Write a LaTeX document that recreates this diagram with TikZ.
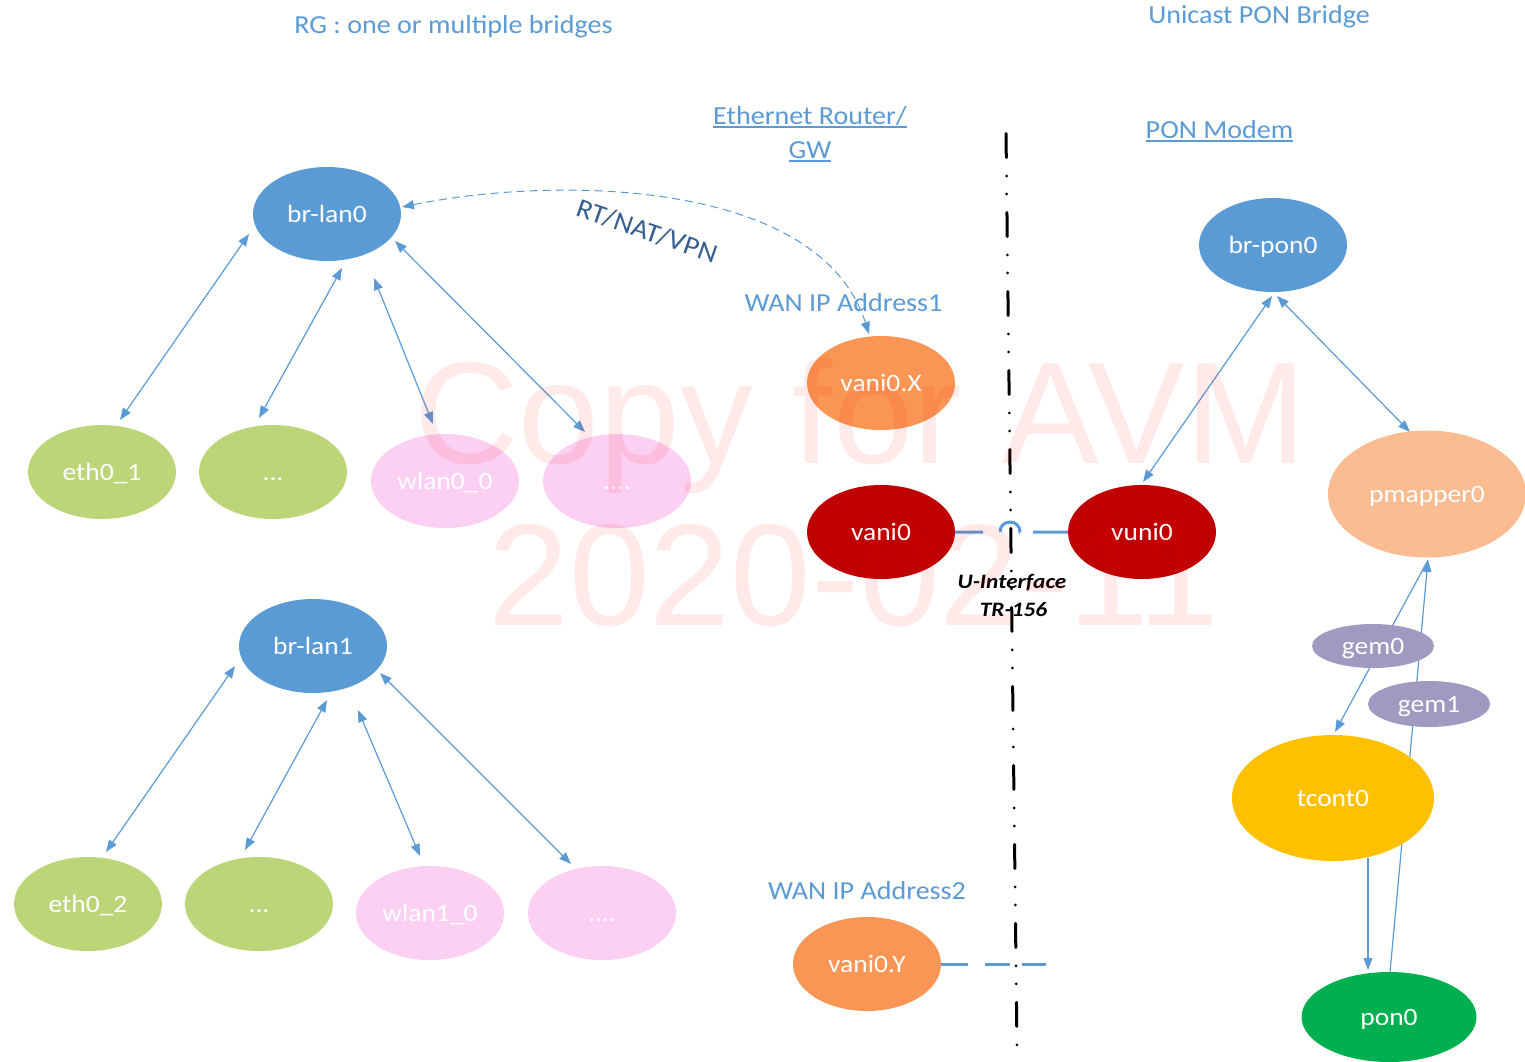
\documentclass[tikz,border=0pt]{standalone}
\usepackage{fontspec}
\setmainfont{Carlito}
\newfontfamily\titlefamily{Carlito}[FakeStretch=1.08]
\newfontfamily\labelfamily{Carlito}[FakeStretch=1.1]
\newfontfamily\ifacefamily{Carlito}[FakeStretch=1.14]
\newfontfamily\markfamily{Liberation Sans}
\usetikzlibrary{arrows.meta,shapes.geometric,calc}

\definecolor{lanblue}{RGB}{91,155,213}
\definecolor{ethgreen}{RGB}{189,213,121}
\definecolor{wlanpink}{RGB}{252,208,243}
\definecolor{vorange}{RGB}{250,150,85}
\definecolor{darkred}{RGB}{192,0,0}
\definecolor{peach}{RGB}{251,188,146}
\definecolor{gemgrey}{RGB}{161,154,192}
\definecolor{tyellow}{RGB}{255,192,0}
\definecolor{pgreen}{RGB}{0,176,80}
\definecolor{rtblue}{RGB}{55,96,146}

\pgfdeclarelayer{paper}
\pgfdeclarelayer{wires}
\pgfdeclarelayer{stamp}
\pgfsetlayers{paper,wires,main,stamp}

% underlined text with a rule of fixed offset and thickness
\newcommand\ulbox[1]{\leavevmode\setbox0\hbox{#1}\rlap{\rule[-4pt]{\wd0}{1.6pt}}\box0}

\begin{document}
\begin{tikzpicture}[x=1pt,y=-1pt,
  >={Triangle[length=12pt,width=9pt]},
  bubble/.style={ellipse, inner sep=0pt, minimum width=148pt, minimum height=94pt,
    text=white, font=\labelfamily\fontsize{25}{30}\selectfont,
    text height=17pt, text depth=0pt},
  heading/.style={text=lanblue, font=\titlefamily\fontsize{26}{31}\selectfont,
    anchor=base, inner sep=0pt},
  iface/.style={anchor=base, inner sep=0pt,
    font=\ifacefamily\bfseries\itshape\fontsize{20.5}{24}\selectfont},
  link/.style={draw=lanblue, line width=1.2pt},
  bus/.style={draw=lanblue, line width=3pt},
  stamptext/.style={anchor=base, inner sep=0pt, text=red, text opacity=0.085,
    font=\markfamily\fontsize{145}{170}\selectfont},
]
\useasboundingbox (0,0) rectangle (1525,1061);
\begin{pgfonlayer}{paper}
  \fill[white] (0,0) rectangle (1525,1061);
\end{pgfonlayer}

% ---------- RG bridges ----------
\node[bubble, fill=lanblue]  (brlan0) at (327,214) {br-lan0};
\node[bubble, fill=ethgreen] (eth01)  at (102,472) {eth0\_1};
\node[bubble, fill=ethgreen] (dots1)  at (273,472) {...};
\node[bubble, fill=wlanpink] (wlan00) at (445,481) {wlan0\_0};
\node[bubble, fill=wlanpink] (dots2)  at (617,481) {....};

\node[bubble, fill=lanblue]  (brlan1) at (313,646) {br-lan1};
\node[bubble, fill=ethgreen] (eth02)  at (88,904)  {eth0\_2};
\node[bubble, fill=ethgreen] (dots3)  at (259,904) {...};
\node[bubble, fill=wlanpink] (wlan10) at (430,913) {wlan1\_0};
\node[bubble, fill=wlanpink] (dots4)  at (602,913) {....};

% ---------- router / WAN side ----------
\node[bubble, fill=vorange] (vani0X) at (881,383) {vani0.X};
\node[bubble, fill=darkred] (vani0)  at (881,532) {vani0};
\node[bubble, fill=darkred] (vuni0)  at (1142,532) {vuni0};
\node[bubble, fill=vorange] (vani0Y) at (867,964) {vani0.Y};

% ---------- PON modem ----------
\node[bubble, fill=lanblue] (brpon0) at (1273,245) {br-pon0};
\node[bubble, fill=peach, minimum width=198pt, minimum height=127pt] (pmapper0) at (1427,494) {pmapper0};
\node[bubble, fill=gemgrey, minimum width=122pt, minimum height=44pt] (gem0) at (1373,646) {gem0};
\node[bubble, fill=gemgrey, minimum width=122pt, minimum height=46pt] (gem1) at (1429,704) {gem1};
\node[bubble, fill=tyellow, minimum width=202pt, minimum height=126pt] (tcont0) at (1333,798) {tcont0};
\node[bubble, fill=pgreen, minimum width=175pt, minimum height=90pt] (pon0) at (1389,1017) {pon0};

% ---------- headings ----------
\node[heading] (rgtitle)  at (453.5,33) {RG : one or multiple bridges};
\node[heading] (unititle) at (1259,23) {Unicast PON Bridge};
\node[heading] (ethtitle) at (810,124) {\ulbox{Ethernet Router/}};
\node[heading] (gwtitle)  at (810,158) {\ulbox{GW}};
\node[heading] (ponmodem) at (1219.5,138) {\ulbox{PON Modem}};
\node[heading] (wan1)     at (843.5,311) {WAN IP Address1};
\node[heading] (wan2)     at (867,899) {WAN IP Address2};
\node[iface] (uif)   at (1012,588) {U-Interface};
\node[iface] (tr156) at (1013.5,616) {TR-156};
\node[text=rtblue, font=\titlefamily\fontsize{27}{32}\selectfont, rotate=-19, inner sep=0pt]
  (rtnat) at (647,231) {RT/NAT/VPN};

% ---------- connectors ----------
\begin{pgfonlayer}{wires}
  % U-interface demarcation
  \coordinate (septop) at (1006,133.5);
  \coordinate (sepbot) at (1017,1048);
  \draw[line width=3pt, line cap=round,
        dash pattern=on 24pt off 18.5pt on 0pt off 18pt on 0pt off 18.5pt]
    (septop) -- (sepbot);

  % bridge members of br-lan0
  \draw[link,<->] ($(brlan0)+(-78,20)$) -- ($(eth01)+(18,-52)$);
  \draw[link,<->] ($(brlan0)+(15,54)$)  -- ($(dots1)+(-14,-54)$);
  \draw[link,<->] ($(brlan0)+(47,64)$)  -- ($(wlan00)+(-12,-57)$);
  \draw[link,<->] ($(brlan0)+(68,27)$)  -- ($(dots2)+(-32,-49)$);

  % bridge members of br-lan1
  \draw[link,<->] ($(brlan1)+(-78,20)$) -- ($(eth02)+(18,-52)$);
  \draw[link,<->] ($(brlan1)+(14,54)$)  -- ($(dots3)+(-14,-54)$);
  \draw[link,<->] ($(brlan1)+(45,64)$)  -- ($(wlan10)+(-10,-57)$);
  \draw[link,<->] ($(brlan1)+(67,27)$)  -- ($(dots4)+(-31,-49)$);

  % routing between LAN bridge and WAN interface
  \draw[draw=lanblue, line width=1pt, dash pattern=on 8pt off 5pt, <->]
    ($(brlan0)+(75,-7)$) .. controls +(158,-32) and +(-49,-154) .. ($(vani0X)+(-12,-49)$);

  % U-interface link with a hop over the demarcation line
  \coordinate (hopL) at (1000,532);
  \coordinate (hopR) at (1020,532);
  \draw[bus, dash pattern=on 28pt off 17pt on 31.4pt off 13pt on 40pt]
    (vani0.east) -- (hopL) .. controls +(0,-13.3) and +(0,-13.3) .. (hopR) -- (vuni0.west);

  % second WAN interface
  \coordinate (wanend) at (1046,964);
  \draw[bus, dash pattern=on 27pt off 17pt on 25pt off 12pt on 40pt]
    (vani0Y.east) -- (wanend);

  % PON bridge
  \draw[link,<->] ($(brpon0)+(-1,51)$) -- ($(vuni0)+(1,-50)$);
  \draw[link,<->] ($(brpon0)+(4,51)$)  -- ($(pmapper0)+(-17,-62)$);
  \coordinate (pmfoot) at ($(pmapper0)+(1,66)$);
  \draw[link,->] (pmfoot) -- ($(tcont0)+(2,-66)$);
  \draw[link,->] ($(pon0)+(1,-45)$) -- (pmfoot);
  \draw[link,->] ($(tcont0)+(35,60)$) -- ($(pon0)+(-21,-47)$);
\end{pgfonlayer}

% ---------- watermark ----------
\begin{pgfonlayer}{stamp}
  \node[stamptext] (stampa) at (860,463) {Copy for AVM};
  \node[stamptext] (stampb) at (854,625) {2020-02-11};
\end{pgfonlayer}
\end{tikzpicture}
\end{document}
